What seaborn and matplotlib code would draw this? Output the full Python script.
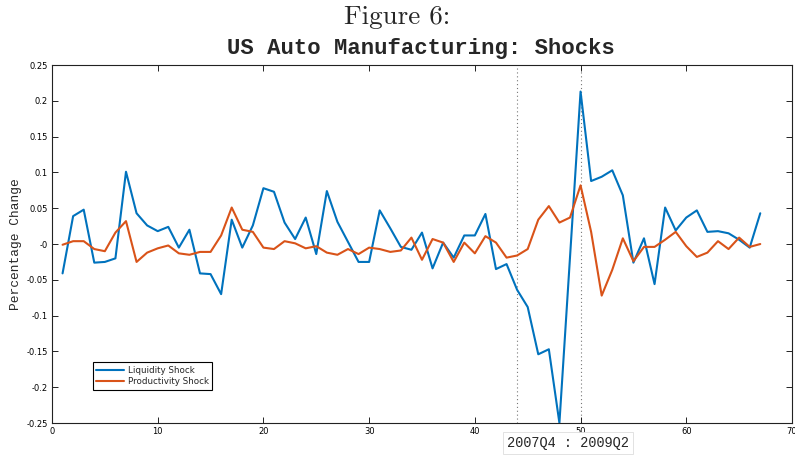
import matplotlib
matplotlib.use('Agg')
import matplotlib.pyplot as plt
import seaborn as sns
import pandas as pd
import numpy as np

# quarters 1..67
quarters = list(range(1, 68))

liquidity = [-0.041, 0.039, 0.048, -0.026, -0.025, -0.020, 0.101, 0.043, 0.026, 0.018,
             0.024, -0.005, 0.020, -0.041, -0.042, -0.070, 0.034, -0.005, 0.026, 0.078,
             0.073, 0.030, 0.007, 0.037, -0.014, 0.074, 0.031, 0.003, -0.025, -0.025,
             0.047, 0.022, -0.004, -0.008, 0.016, -0.034, 0.002, -0.019, 0.012, 0.012,
             0.042, -0.035, -0.028, -0.064, -0.088, -0.154, -0.147, -0.250, -0.019, 0.213,
             0.088, 0.094, 0.103, 0.068, -0.026, 0.008, -0.056, 0.051, 0.019, 0.037,
             0.047, 0.017, 0.018, 0.015, 0.006, -0.005, 0.043]

productivity = [-0.001, 0.004, 0.004, -0.007, -0.010, 0.016, 0.032, -0.025, -0.012, -0.006,
                -0.002, -0.013, -0.015, -0.011, -0.011, 0.012, 0.051, 0.020, 0.017, -0.005,
                -0.007, 0.004, 0.001, -0.006, -0.003, -0.012, -0.015, -0.007, -0.014, -0.005,
                -0.007, -0.011, -0.009, 0.009, -0.022, 0.007, 0.002, -0.025, 0.002, -0.013,
                0.011, 0.002, -0.019, -0.016, -0.007, 0.034, 0.053, 0.030, 0.037, 0.082,
                0.017, -0.072, -0.036, 0.008, -0.024, -0.004, -0.004, 0.006, 0.017, -0.003,
                -0.018, -0.012, 0.004, -0.007, 0.009, -0.004, 0.000]

crisis = [44, 50]
crisis_label = '2007Q4 : 2009Q2'

df = pd.concat([
    pd.DataFrame({'t': quarters, 'value': liquidity, 'series': 'Liquidity Shock'}),
    pd.DataFrame({'t': quarters, 'value': productivity, 'series': 'Productivity Shock'}),
])

sns.set_style('white')
fig = plt.figure(figsize=(7.95, 4.55), dpi=100)
ax = fig.add_axes([0.0654, 0.0703, 0.9308, 0.7867])

sns.lineplot(data=df, x='t', y='value', hue='series', ax=ax, linewidth=1.5,
             palette={'Liquidity Shock': '#0072BD', 'Productivity Shock': '#D95319'})

for c in crisis:
    ax.axvline(c, color='#777777', linestyle=(0, (1, 2.5)), linewidth=0.8, zorder=0)

ax.set_xlim(0, 70)
ax.set_ylim(-0.25, 0.25)
ax.set_xticks(np.arange(0, 71, 10))
ax.set_yticks(np.arange(-0.25, 0.2501, 0.05))
ax.set_xticklabels([str(v) for v in range(0, 71, 10)])
ax.set_yticklabels(['%g' % round(v, 2) for v in np.arange(-0.25, 0.2501, 0.05)])
ax.tick_params(direction='in', length=4, width=0.6, labelsize=6, top=True, right=True,
               bottom=True, left=True, colors='black', pad=3)
for s in ax.spines.values():
    s.set_color('#222222')
    s.set_linewidth(0.8)
ax.set_xlabel('')
ax.set_ylabel('Percentage Change', family='Liberation Mono', fontsize=9.3, labelpad=3)

leg = ax.legend(loc='lower left', bbox_to_anchor=(0.055, 0.093), fontsize=6.3, fancybox=False,
                edgecolor='black', framealpha=1, borderpad=0.4, handlelength=3.2,
                labelspacing=0.3, handletextpad=0.4, borderaxespad=0)
leg.get_frame().set_linewidth(0.8)

fig.text(0.5, 0.963, 'Figure 6:', ha='center', va='center', family='cmr10', fontsize=19.5)
fig.text(0.53, 0.893, 'US Auto Manufacturing: Shocks', ha='center', va='center',
         family='Liberation Mono', fontweight='bold', fontsize=16)
fig.text(0.7145, 0.026, crisis_label, ha='center', va='center', family='Liberation Mono',
         fontsize=9.8, bbox=dict(boxstyle='square,pad=0.3', facecolor='white',
                                 edgecolor='#dddddd', linewidth=0.6))

plt.savefig('out.png', dpi=100)
